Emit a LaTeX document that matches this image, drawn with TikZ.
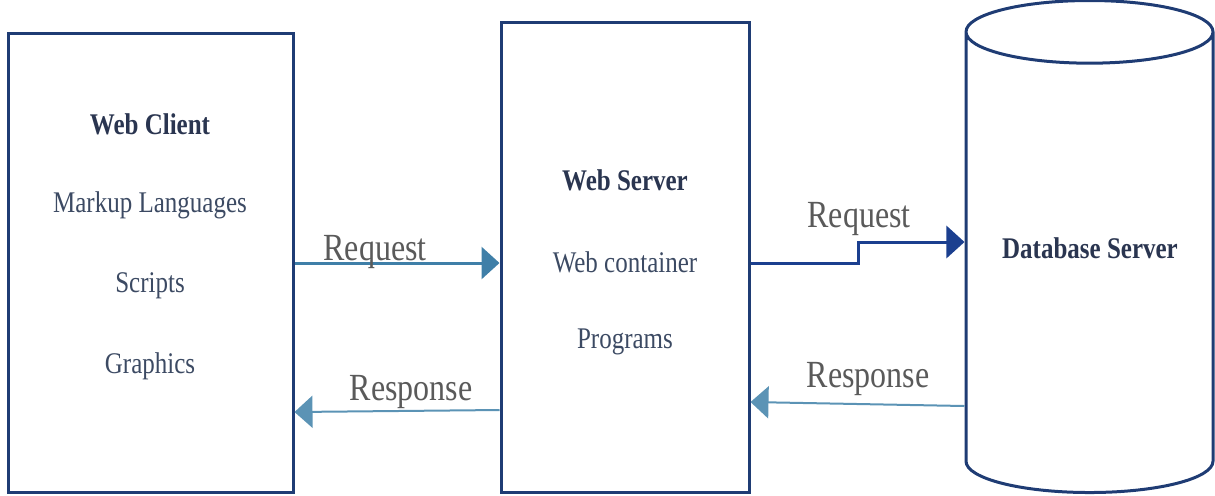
\documentclass[tikz,border=0pt]{standalone}
\usepackage{fontspec}
\setmainfont{Liberation Serif}
\usepackage{xcolor}
\usepackage{graphicx}
\usetikzlibrary{arrows.meta,shapes.geometric}

\definecolor{boxline}{HTML}{1F3C74}
\definecolor{boxtext}{HTML}{3C4A63}
\definecolor{titletext}{HTML}{2A3550}
\definecolor{labeltext}{HTML}{5A5A5A}
\definecolor{reqblue}{HTML}{3F7FA8}
\definecolor{respblue}{HTML}{5B93B5}
\definecolor{dbreq}{HTML}{1B3F8F}

\newcommand{\tall}[1]{\scalebox{1}[1.2]{#1}}

\tikzset{
  tier/.style={draw=boxline, line width=1.5pt, rectangle},
  title/.style={text=titletext, font=\fontsize{12.5}{15}\selectfont\bfseries},
  item/.style={text=boxtext, font=\fontsize{12.5}{15}\selectfont},
  flowlabel/.style={text=labeltext, font=\fontsize{16}{19}\selectfont},
  request/.style={draw=reqblue, line width=1.5pt, -{Triangle[length=9pt,width=16pt]}},
  dbrequest/.style={draw=dbreq, line width=1.5pt, -{Triangle[length=9pt,width=16pt]}},
  response/.style={draw=respblue, line width=1pt, -{Triangle[length=9pt,width=16pt]}}
}

\begin{document}
\begin{tikzpicture}[x=0.5pt, y=-0.5pt]
  \useasboundingbox (0,0) rectangle (1215,495);

  % tiers
  \node[tier, minimum width=142.5pt, minimum height=229.5pt] (client) at (150.5,262.5) {};
  \node[tier, minimum width=124pt, minimum height=235pt] (server) at (625,257) {};
  \node[draw=boxline, line width=1.5pt, cylinder, shape border rotate=90, aspect=4.7,
        minimum width=123.5pt, minimum height=246pt] (db) at (1089.5,268) {};

  % texts
  \node[title] (clienttitle) at (150,124) {\tall{Web Client}};
  \node[item] (markup) at (150,205) {\tall{Markup Languages}};
  \node[item] (scripts) at (150,286) {\tall{Scripts}};
  \node[item] (graphics) at (150,366) {\tall{Graphics}};

  \node[title] (servertitle) at (625,180) {\tall{Web Server}};
  \node[item] (container) at (625,262) {\tall{Web container}};
  \node[item] (programs) at (625,342) {\tall{Programs}};

  \node[title] (dbtitle) at (1090,248) {\tall{Database Server}};

  % flows
  \draw[request] (client.east |- 0,263) -- (server.west |- 0,263);
  \node[flowlabel] (reqleft) at (375,252) {\tall{Request}};

  \draw[response] (server.west |- 0,410) -- (client.east |- 0,412);
  \node[flowlabel] (respleft) at (411,392) {\tall{Response}};

  \draw[dbrequest] (server.east |- 0,263) -- (858,263) -- (858,242) -- (db.west |- 0,242);
  \node[flowlabel] (reqright) at (859,219) {\tall{Request}};

  \draw[response] (db.west |- 0,406) -- (server.east |- 0,402);
  \node[flowlabel] (respright) at (868,379) {\tall{Response}};
\end{tikzpicture}
\end{document}
